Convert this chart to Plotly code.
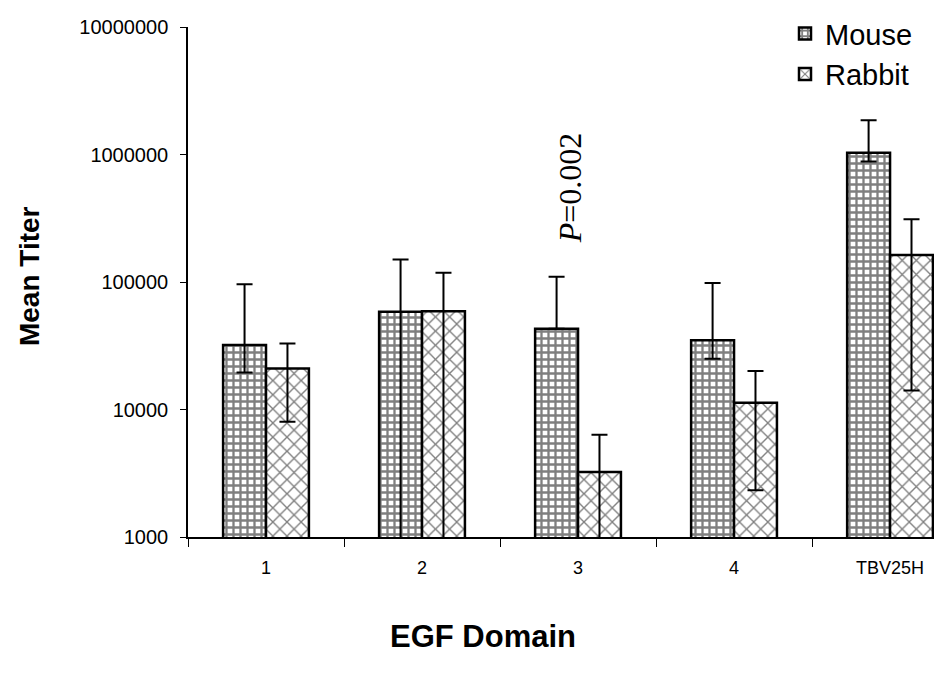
import plotly.graph_objects as go

categories = ["1", "2", "3", "4", "TBV25H"]

mouse_mean = [32000, 58500, 43000, 35000, 1030000]
mouse_upper = [96000, 150000, 110000, 98000, 1860000]
mouse_lower = [19500, 500, 43000, 25000, 880000]

rabbit_mean = [21000, 59000, 3230, 11300, 163000]
rabbit_upper = [33000, 118000, 6350, 20000, 310000]
rabbit_lower = [8000, 500, 500, 2330, 14100]

y_tickvals = [1000, 10000, 100000, 1000000, 10000000]
y_ticktext = ["1000", "10000", "100000", "1000000", "10000000"]

FONT = "Arial, Liberation Sans, sans-serif"

# page has an 8px body margin; plot area in the page: x 188..942, y 25..537
PX0, PX1, PY0, PY1 = 188, 942, 25, 537


def px(xp):
    return (xp - PX0) / (PX1 - PX0)


def py(yp):
    return (PY1 - yp) / (PY1 - PY0)


def err(mean, upper, lower):
    return dict(
        type="data",
        symmetric=False,
        array=[u - m for u, m in zip(upper, mean)],
        arrayminus=[m - l for m, l in zip(mean, lower)],
        color="black",
        thickness=2,
        width=8,
    )


fig = go.Figure()
fig.add_trace(go.Bar(
    name="Mouse", x=categories, y=mouse_mean,
    marker=dict(color="white", line=dict(color="black", width=2.5),
                pattern=dict(shape="+", fgcolor="black", bgcolor="white",
                             size=7, solidity=0.55)),
    error_y=err(mouse_mean, mouse_upper, mouse_lower),
))
fig.add_trace(go.Bar(
    name="Rabbit", x=categories, y=rabbit_mean,
    marker=dict(color="white", line=dict(color="black", width=2.5),
                pattern=dict(shape="x", fgcolor="black", bgcolor="white",
                             size=10, solidity=0.25)),
    error_y=err(rabbit_mean, rabbit_upper, rabbit_lower),
))

fig.update_layout(
    width=934, height=668,
    margin=dict(l=180, r=0, t=17, b=139),
    paper_bgcolor="white", plot_bgcolor="white",
    barmode="group", bargap=0.45, bargroupgap=0,
    font=dict(family=FONT, size=19, color="black"),
    showlegend=True,
    legend=dict(x=px(785), y=py(6), xanchor="left", yanchor="top",
                font=dict(family=FONT, size=29, color="black"),
                bgcolor="rgba(0,0,0,0)", tracegroupgap=0, itemwidth=30),
)

fig.update_xaxes(
    range=[-0.5, 4.333], showline=True, linecolor="black", linewidth=1.5,
    ticks="outside", tickson="boundaries", ticklen=8, tickcolor="black",
    ticklabelstandoff=14,
    showgrid=False, zeroline=False,
    tickfont=dict(family=FONT, size=18, color="black"),
)
fig.update_yaxes(
    type="log", range=[3, 7], showline=True, linecolor="black", linewidth=1.5,
    ticks="outside", ticklen=6, tickcolor="black",
    tickvals=y_tickvals, ticktext=y_ticktext, ticklabelstandoff=8,
    showgrid=False, zeroline=False,
    tickfont=dict(family=FONT, size=20, color="black"),
)

fig.add_annotation(
    text="<b>Mean Titer</b>", textangle=-90, xref="paper", yref="paper",
    x=px(29), y=py(275), xanchor="center", yanchor="middle", showarrow=False,
    font=dict(family=FONT, size=28, color="black"),
)
fig.add_annotation(
    text="<b>EGF Domain</b>", xref="paper", yref="paper",
    x=px(483), y=py(637), xanchor="center", yanchor="middle", showarrow=False,
    font=dict(family=FONT, size=31, color="black"),
)
fig.add_annotation(
    text="<i>P</i>=0.002", textangle=-90, xref="paper", yref="paper",
    x=px(570), y=py(187), xanchor="center", yanchor="middle", showarrow=False,
    font=dict(family="Times New Roman, Liberation Serif, serif", size=32, color="black"),
)

fig.write_html("out.html")
